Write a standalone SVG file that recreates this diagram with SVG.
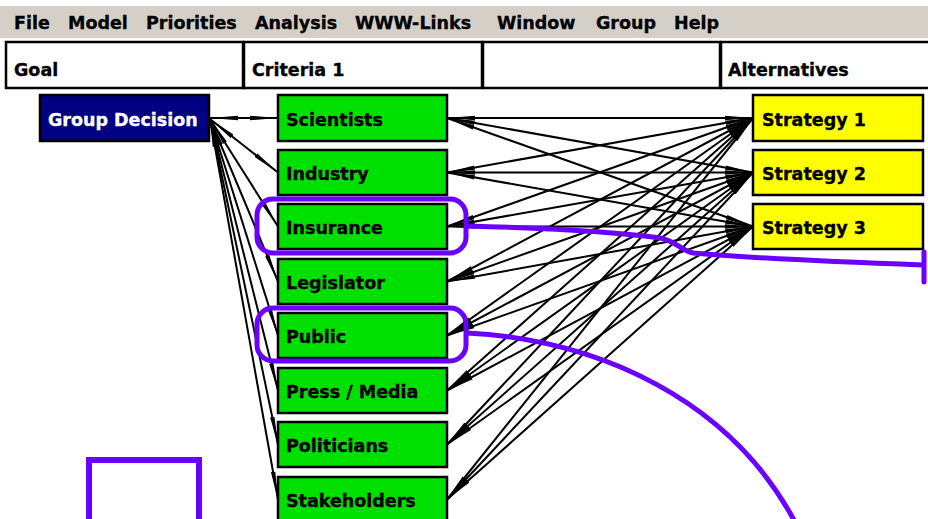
<svg xmlns="http://www.w3.org/2000/svg" width="928" height="519" viewBox="0 0 928 519">
<style>
text{font-family:"DejaVu Sans","Liberation Sans",sans-serif;font-weight:bold;font-size:17.5px;fill:#000;stroke:#000;stroke-width:0.35}
.hdr{fill:#fff;stroke:#000;stroke-width:2.5}
.goal{fill:#000080;stroke:#000;stroke-width:2.5}
.crit{fill:#00e000;stroke:#000;stroke-width:2.5}
.alt{fill:#ffff00;stroke:#000;stroke-width:2.5}
text.wht{fill:#fff;stroke:#fff}
#connectors line{stroke:#000;stroke-width:2;marker-start:url(#tip);marker-end:url(#tip)}
.mark{fill:none;stroke:#6a00ff;stroke-width:5;stroke-linecap:round}
</style>
<defs>
<marker id="tip" viewBox="-28 -3 28 6" refX="0" refY="0" markerWidth="28" markerHeight="6" markerUnits="userSpaceOnUse" orient="auto-start-reverse"><path d="M0,0 L-28,-2.2 L-28,2.2 Z" fill="#000"/></marker>
</defs>
<rect width="928" height="519" fill="#fff"/>
<g id="menubar">
<rect x="0" y="6" width="928" height="32" fill="#d4d0c8"/>
<text x="14" y="29">File</text>
<text x="68" y="29">Model</text>
<text x="146" y="29">Priorities</text>
<text x="255" y="29">Analysis</text>
<text x="355" y="29">WWW-Links</text>
<text x="497" y="29">Window</text>
<text x="596" y="29">Group</text>
<text x="674" y="29">Help</text>
</g>
<g id="header">
<rect class="hdr" x="6" y="42" width="237" height="46"/>
<rect class="hdr" x="244" y="42" width="238" height="46"/>
<rect class="hdr" x="483" y="42" width="237" height="46"/>
<rect class="hdr" x="721" y="42" width="215" height="46"/>
<text x="14" y="76">Goal</text>
<text x="252" y="76">Criteria 1</text>
<text x="728" y="76">Alternatives</text>
</g>
<g id="connectors">
<line x1="210" y1="118" x2="278" y2="118"/>
<line x1="210" y1="119" x2="278" y2="172.5"/>
<line x1="210" y1="119" x2="278" y2="226.5"/>
<line x1="210" y1="119" x2="278" y2="281.5"/>
<line x1="210" y1="119" x2="278" y2="335.5"/>
<line x1="210" y1="119" x2="278" y2="390.5"/>
<line x1="210" y1="119" x2="278" y2="444.5"/>
<line x1="210" y1="119" x2="278" y2="499.5"/>
<line x1="447" y1="118" x2="753" y2="118"/>
<line x1="447" y1="118" x2="753" y2="172.5"/>
<line x1="447" y1="118" x2="753" y2="226.5"/>
<line x1="447" y1="172.5" x2="753" y2="118"/>
<line x1="447" y1="172.5" x2="753" y2="172.5"/>
<line x1="447" y1="172.5" x2="753" y2="226.5"/>
<line x1="447" y1="226.5" x2="753" y2="118"/>
<line x1="447" y1="226.5" x2="753" y2="172.5"/>
<line x1="447" y1="226.5" x2="753" y2="226.5"/>
<line x1="447" y1="281.5" x2="753" y2="118"/>
<line x1="447" y1="281.5" x2="753" y2="172.5"/>
<line x1="447" y1="281.5" x2="753" y2="226.5"/>
<line x1="447" y1="335.5" x2="753" y2="118"/>
<line x1="447" y1="335.5" x2="753" y2="172.5"/>
<line x1="447" y1="335.5" x2="753" y2="226.5"/>
<line x1="447" y1="390.5" x2="753" y2="118"/>
<line x1="447" y1="390.5" x2="753" y2="172.5"/>
<line x1="447" y1="390.5" x2="753" y2="226.5"/>
<line x1="447" y1="444.5" x2="753" y2="118"/>
<line x1="447" y1="444.5" x2="753" y2="172.5"/>
<line x1="447" y1="444.5" x2="753" y2="226.5"/>
<line x1="447" y1="499.5" x2="753" y2="118"/>
<line x1="447" y1="499.5" x2="753" y2="172.5"/>
<line x1="447" y1="499.5" x2="753" y2="226.5"/>
</g>
<g id="group-decision"><rect class="goal" x="40" y="95" width="169" height="46"/><text x="48" y="126" class="wht">Group Decision</text></g>
<g id="scientists"><rect class="crit" x="278" y="95" width="169" height="46"/><text x="286" y="126">Scientists</text></g>
<g id="industry"><rect class="crit" x="278" y="150" width="169" height="45"/><text x="286" y="180">Industry</text></g>
<g id="insurance"><rect class="crit" x="278" y="204" width="169" height="45"/><text x="286" y="234">Insurance</text></g>
<g id="legislator"><rect class="crit" x="278" y="259" width="169" height="45"/><text x="286" y="289">Legislator</text></g>
<g id="public"><rect class="crit" x="278" y="313" width="169" height="45"/><text x="286" y="343">Public</text></g>
<g id="press-media"><rect class="crit" x="278" y="368" width="169" height="45"/><text x="286" y="398">Press / Media</text></g>
<g id="politicians"><rect class="crit" x="278" y="422" width="169" height="45"/><text x="286" y="452">Politicians</text></g>
<g id="stakeholders"><rect class="crit" x="278" y="477" width="169" height="45"/><text x="286" y="507">Stakeholders</text></g>
<g id="strategy-1"><rect class="alt" x="753" y="95" width="170" height="46"/><text x="762" y="126">Strategy 1</text></g>
<g id="strategy-2"><rect class="alt" x="753" y="150" width="170" height="45"/><text x="762" y="180">Strategy 2</text></g>
<g id="strategy-3"><rect class="alt" x="753" y="204" width="170" height="45"/><text x="762" y="234">Strategy 3</text></g>
<g id="annotations">
<rect class="mark" x="257" y="199" width="209" height="54" rx="16"/>
<rect class="mark" x="257" y="308" width="209" height="53" rx="16"/>
<path class="mark" d="M467,226 C540,228 610,231 660,238 C676,241 680,250 693,253 C740,257 840,262 923,265"/>
<path class="mark" d="M924,252 L924,282"/>
<path class="mark" d="M467,333 C600,340 730,400 795,522"/>
<rect x="89" y="460" width="110" height="80" fill="none" stroke="#6a00ff" stroke-width="6"/>
</g>
</svg>
